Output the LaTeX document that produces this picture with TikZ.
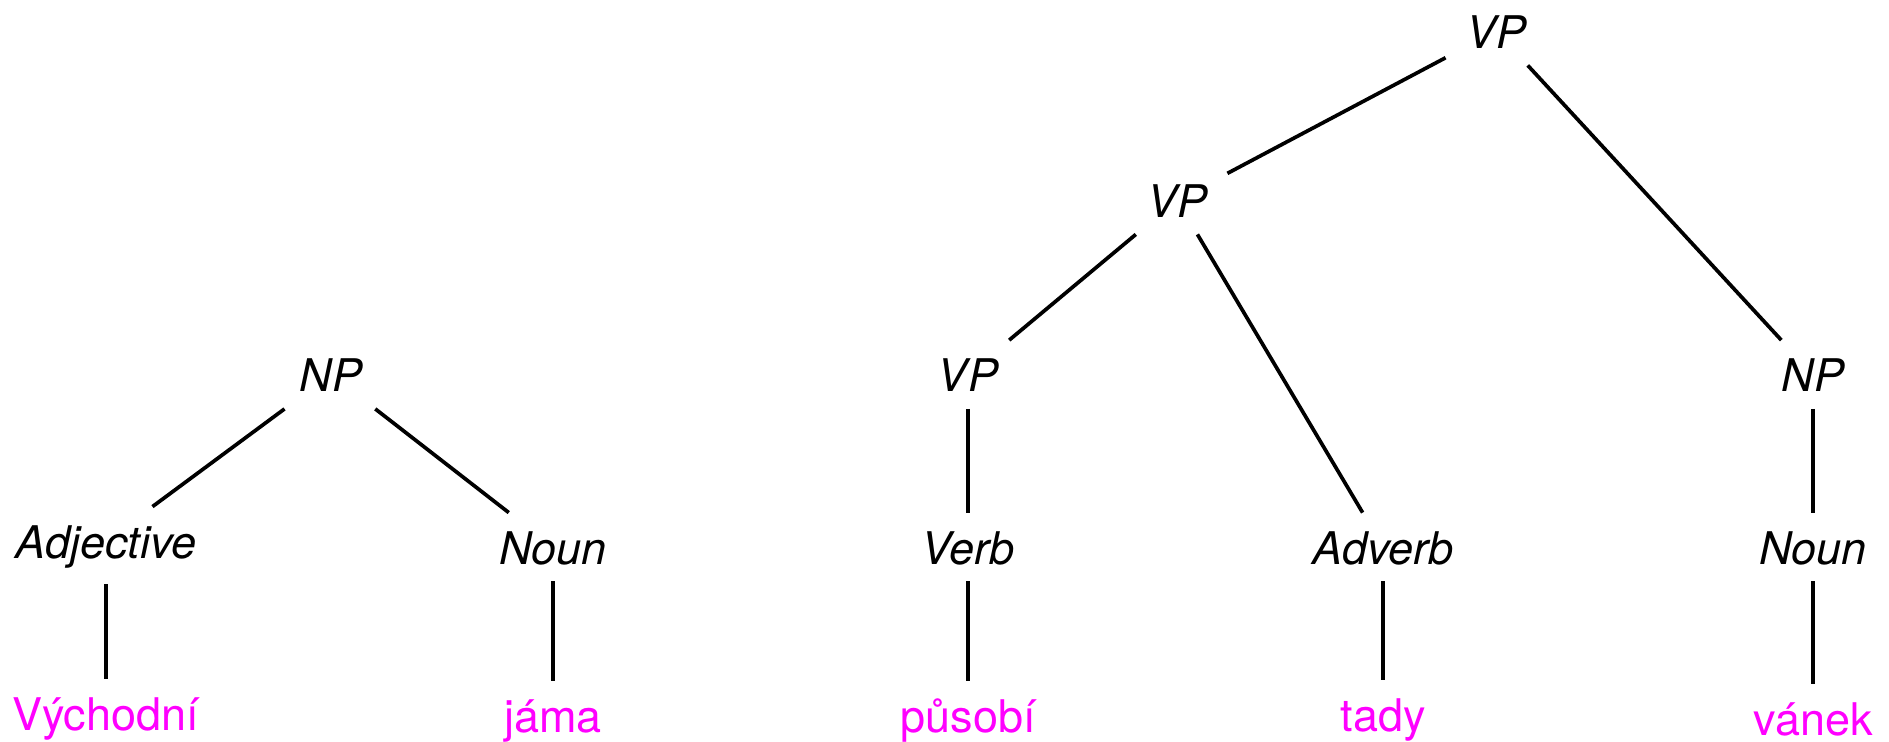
\documentclass[tikz,border=0pt]{standalone}
\usepackage{fontspec}
\setmainfont{TeX Gyre Heros}
\definecolor{wordmag}{HTML}{FF00FF}
\begin{document}
\begin{tikzpicture}[x=0.5pt,y=-0.5pt,
  treenode/.style={font=\fontsize{22.5}{27}\selectfont, inner xsep=10pt, inner ysep=8.5pt, text height=17pt, text depth=0pt, anchor=center},
  cat/.style={treenode, font=\fontsize{22.5}{27}\selectfont\itshape},
  word/.style={treenode, inner xsep=3pt, text=wordmag},
  branch/.style={draw=black, line width=1.85pt}]
\useasboundingbox (0,0) rectangle (1889,741);
% left tree
\node[cat] (np1) at (331,374.5) {NP};
\node[cat] (adj) at (106,541) {Adjective};
\node[cat] (noun1) at (553,547) {Noun};
\node[word] (w1) at (106,713) {Východní};
\node[word] (w2) at (553,715.5) {jáma};
% right tree
\node[cat] (vptop) at (1496,31) {VP};
\node[cat] (vpmid) at (1177,200) {VP};
\node[cat] (vplow) at (968,374.5) {VP};
\node[cat] (np2) at (1813,374.5) {NP};
\node[cat] (verb) at (968,547) {Verb};
\node[cat] (adv) at (1383,547) {Adverb};
\node[cat] (noun2) at (1813,547) {Noun};
\node[word] (w3) at (968,715.5) {působí};
\node[word] (w4) at (1383,714) {tady};
\node[word] (w5) at (1813,718) {vánek};
% branches
\draw[branch] (np1) -- (adj);
\draw[branch] (np1) -- (noun1);
\draw[branch, shorten <=4.5pt] (adj) -- (w1);
\draw[branch] (noun1) -- (w2);
\draw[branch] (vptop) -- (vpmid);
\draw[branch] (vptop) -- (np2);
\draw[branch] (vpmid) -- (vplow);
\draw[branch] (vpmid) -- (adv);
\draw[branch] (vplow) -- (verb);
\draw[branch] (verb) -- (w3);
\draw[branch] (adv) -- (w4);
\draw[branch] (np2) -- (noun2);
\draw[branch] (noun2) -- (w5);
\end{tikzpicture}
\end{document}
